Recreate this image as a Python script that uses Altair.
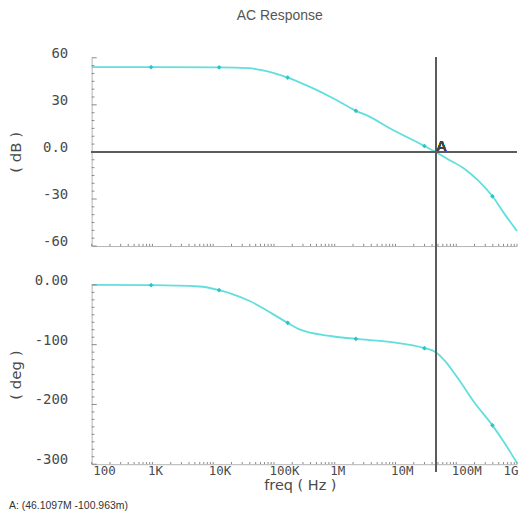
import altair as alt
import pandas as pd

# ---- data ----
mag_freq = [100, 950, 1.25e4, 3.9e4, 5.68e4, 1e5, 1.68e5, 4.25e5, 1.03e6, 2.23e6,
            3.6e6, 7.9e6, 2.99e7, 4.61e7, 7.4e7, 1.39e8, 2.29e8, 3.94e8, 6.3e8, 1e9]
mag_db = [54.0, 54.0, 53.9, 53.4, 52.4, 50.2, 47.4, 40.8, 33.4, 26.2,
          22.8, 15.3, 3.8, -0.1, -4.8, -11.0, -18.2, -28.3, -39.8, -50.5]

ph_freq = [100, 950, 5.9e3, 1.25e4, 3.9e4, 1.68e5, 2.57e5, 9.04e5, 2.23e6, 8.6e6,
           2.99e7, 4.61e7, 6.5e7, 1.08e8, 2.03e8, 3.94e8, 6.28e8, 1e9]
ph_deg = [0, -0.5, -2.7, -8.8, -26.6, -63.5, -74.0, -85.9, -90.3, -95.8,
          -105.8, -112.5, -127.0, -157.0, -198.0, -235.0, -265.0, -298.0]

marker_freq = [950, 1.25e4, 1.68e5, 2.23e6, 2.99e7, 3.94e8]
marker_db = [54.0, 53.9, 47.4, 26.2, 3.8, -28.3]
marker_deg = [-0.5, -8.8, -63.5, -90.3, -105.8, -235.0]

x_ticks = [1e2, 1e3, 1e4, 1e5, 1e6, 1e7, 1e8, 1e9]
x_tick_labels = ["100", "1K", "10K", "100K", "1M", "10M", "100M", "1G"]
x_minor = [k * 10 ** n for n in range(2, 9) for k in range(1, 10)] + [1e9]

db_ticks = [-60, -30, 0, 30, 60]
db_tick_labels = ["-60", "-30", "0.0", "30", "60"]
db_minor = list(range(-60, 61, 5))

deg_ticks = [-300, -200, -100, 0]
deg_tick_labels = ["-300", "-200", "-100", "0.00"]
deg_minor = [-300 + 12.5 * i for i in range(25)]

cursor_freq = 46.1097e6
cursor_name = "A"
cursor_readout = "A: (46.1097M -100.963m)"
chart_title = "AC Response"

# ---- styling ----
CURVE = "#62dede"
MARK = "#2ec4c4"
DARK = "#5c5c5c"
AXIS_GRAY = "#b4b4b4"
TICK_GRAY = "#8a8a8a"
TEXT = "#4a4a4a"
MONO = "DejaVu Sans Mono"
SANS = "DejaVu Sans"

W = 427
H_TOP = 189
H_BOT = 180


def label_expr(values, labels):
    expr = "''"
    for v, l in reversed(list(zip(values, labels))):
        expr = f"(abs(datum.value - ({v})) < 1e-6 * max(1, abs({v})) ? '{l}' : {expr})"
    return expr


mag_df = pd.DataFrame({"f": mag_freq, "v": mag_db})
ph_df = pd.DataFrame({"f": ph_freq, "v": ph_deg})
mag_mk = pd.DataFrame({"f": marker_freq, "v": marker_db})
ph_mk = pd.DataFrame({"f": marker_freq, "v": marker_deg})
xminor_df = pd.DataFrame({"f": x_minor})
dbminor_df = pd.DataFrame({"v": db_minor})
dbminor_df["major"] = [1 if v in db_ticks else 0 for v in db_minor]
degminor_df = pd.DataFrame({"v": deg_minor})
degminor_df["major"] = [1 if v in deg_ticks else 0 for v in deg_minor]

x_scale = alt.Scale(type="log", domain=[1e2, 1e9], nice=False)
db_scale = alt.Scale(domain=[-60, 60], nice=False, zero=False)
deg_scale = alt.Scale(domain=[-300, 0], nice=False, zero=False)


def y_axis(values, labels, title, h):
    return alt.Axis(
        values=values, labelExpr=label_expr(values, labels), ticks=False, grid=False,
        domainColor=AXIS_GRAY, labelFont=MONO, labelFontSize=14, labelColor=TEXT,
        labelPadding=24, labelOffset=-4.5, labelOverlap=False, labelFlush=False,
        title=title, titleX=-76, titleY=h / 2, titleAngle=270, titleAlign="center",
        titleBaseline="middle", titleFont=SANS, titleFontSize=15,
        titleFontWeight="normal", titleColor=TEXT,
    )


top_x_axis = alt.Axis(labels=False, ticks=False, grid=False, title=None,
                      domainColor=AXIS_GRAY, values=x_ticks)
bot_x_axis = alt.Axis(
    values=x_ticks, labelExpr=label_expr(x_ticks, x_tick_labels), ticks=False,
    grid=False, domainColor=AXIS_GRAY, labelFont=MONO, labelFontSize=12.5,
    labelColor=TEXT, labelBaseline="top", labelPadding=0,
    labelAlign={"condition": {"test": "datum.value >= 1e9", "value": "right"}, "value": "left"},
    labelOffset={"condition": [{"test": "datum.value <= 100", "value": 1},
                               {"test": "datum.value >= 1e9", "value": 1}], "value": -5},
    labelOverlap=False, labelFlush=False,
    title="freq ( Hz )", titleX=209, titleY=21.5, titleAlign="center",
    titleBaseline="middle", titleFont=SANS, titleFontSize=14.5,
    titleFontWeight="normal", titleColor=TEXT,
)


def panel(line_df, mk_df, minor_df, yscale, yaxis, xaxis, ylo, yhi, cursor_top, cursor_bot, h, zero_line):
    line = alt.Chart(line_df).mark_line(color=CURVE, strokeWidth=1.8, interpolate="monotone").encode(
        x=alt.X("f:Q", scale=x_scale, axis=xaxis),
        y=alt.Y("v:Q", scale=yscale, axis=yaxis),
    )
    marks = alt.Chart(mk_df).mark_point(shape="diamond", filled=True, size=22, color=MARK, opacity=1).encode(
        x="f:Q", y="v:Q")
    xt = alt.Chart(xminor_df).mark_rule(color=TICK_GRAY, strokeWidth=1).encode(
        x="f:Q", y=alt.datum(ylo), y2=alt.datum(ylo + (yhi - ylo) * 0.012))
    yt_minor = alt.Chart(minor_df).transform_filter("datum.major == 0").mark_rule(
        color=TICK_GRAY, strokeWidth=1).encode(y="v:Q", x=alt.datum(100), x2=alt.datum(111))
    yt_major = alt.Chart(minor_df).transform_filter("datum.major == 1").mark_rule(
        color=TICK_GRAY, strokeWidth=1).encode(y="v:Q", x=alt.datum(100), x2=alt.datum(121))
    cursor = alt.Chart(line_df).mark_rule(color=DARK, strokeWidth=1.4).encode(
        x=alt.datum(cursor_freq), y=alt.datum(cursor_top), y2=alt.datum(cursor_bot))
    layers = [line, xt, yt_minor, yt_major, marks, cursor]
    if zero_line:
        zl = alt.Chart(line_df).mark_rule(color=DARK, strokeWidth=1.4).encode(
            y=alt.datum(0), x=alt.datum(1e2), x2=alt.datum(1e9))
        txt = alt.Chart(line_df).mark_text(
            text=cursor_name, align="left", baseline="alphabetic", dx=1, dy=-1,
            font=SANS, fontSize=14, color="#444444").encode(
            x=alt.datum(cursor_freq), y=alt.datum(0))
        layers = [line, xt, yt_minor, yt_major, zl, marks, cursor, txt]
    return alt.layer(*layers).properties(width=W, height=h)


top = panel(mag_df, mag_mk, dbminor_df, db_scale,
            y_axis(db_ticks, db_tick_labels, "( dB )", H_TOP), top_x_axis,
            -60, 60, 60, -84.5, H_TOP, True)

bot = panel(ph_df, ph_mk, degminor_df, deg_scale,
            y_axis(deg_ticks, deg_tick_labels, "( deg )", H_BOT), bot_x_axis,
            -300, 0, 0, -312, H_BOT, False).properties(
    title=alt.TitleParams(cursor_readout, orient="bottom", anchor="start", frame="bounds",
                          font="Liberation Sans", fontSize=10.5, fontWeight="normal",
                          color="#333333", offset=9))

chart = alt.vconcat(top, bot, spacing=39, bounds="flush").properties(
    title=alt.TitleParams(chart_title, anchor="middle", font="Liberation Sans", fontSize=14,
                          fontWeight="normal", color="#555555", offset=22, dx=15, dy=-1.5),
    padding={"left": 1, "top": 0, "right": 0, "bottom": 0},
).configure_view(stroke=None)

chart.save("out.html", embed_options={"renderer": "svg", "actions": False})
